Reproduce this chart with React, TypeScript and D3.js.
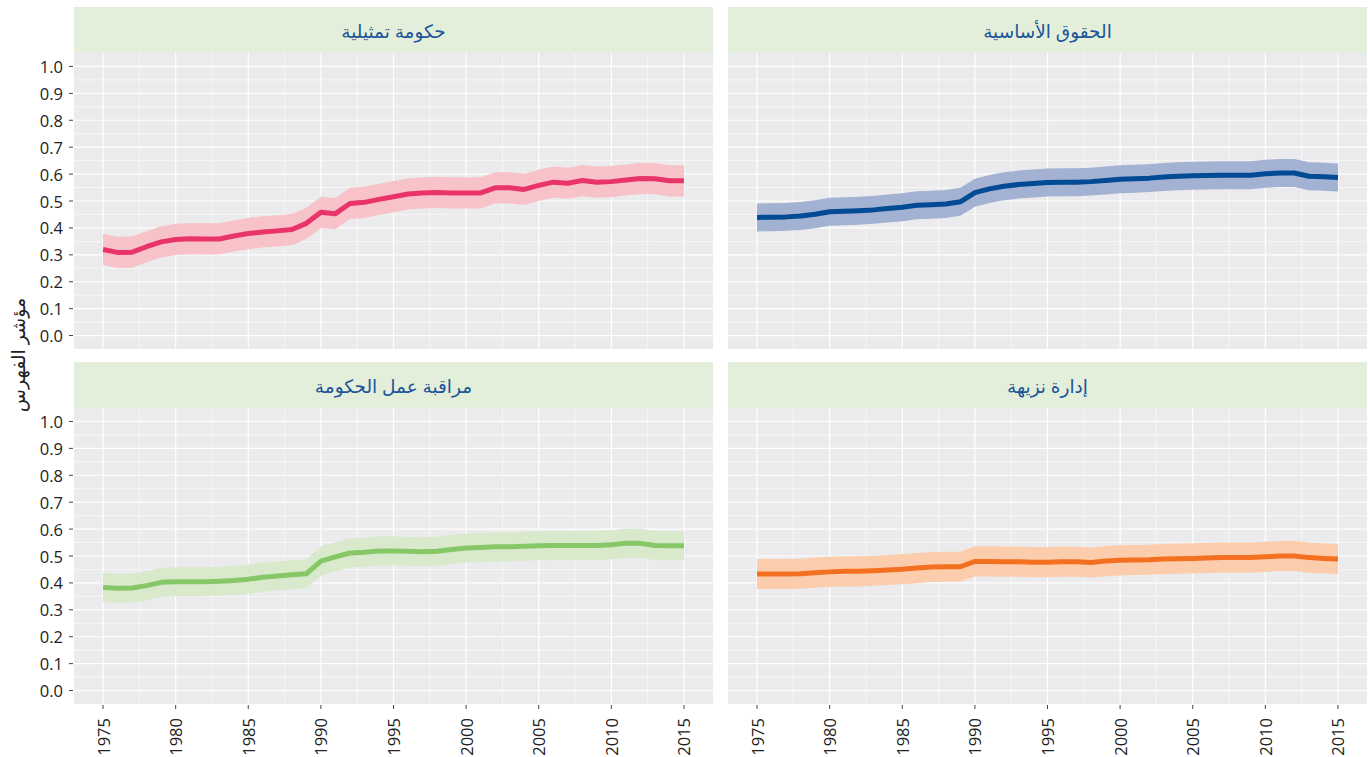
import React from "react";
import * as d3 from "d3";

const years: number[] = d3.range(1975, 2016);

const representative: number[] = [
  0.32, 0.309, 0.31, 0.33, 0.348, 0.357, 0.36, 0.359, 0.359, 0.37,
  0.379, 0.385, 0.389, 0.394, 0.417, 0.458, 0.453, 0.491, 0.495, 0.506,
  0.516, 0.526, 0.53, 0.532, 0.53, 0.53, 0.53, 0.549, 0.549, 0.543,
  0.558, 0.57, 0.566, 0.576, 0.57, 0.572, 0.578, 0.584, 0.583, 0.575, 0.575,
];
const rights: number[] = [
  0.439, 0.44, 0.441, 0.444, 0.451, 0.46, 0.462, 0.464, 0.467, 0.472,
  0.477, 0.484, 0.486, 0.489, 0.497, 0.531, 0.545, 0.555, 0.561, 0.565,
  0.569, 0.57, 0.57, 0.572, 0.576, 0.581, 0.583, 0.585, 0.589, 0.592,
  0.594, 0.595, 0.596, 0.596, 0.596, 0.601, 0.604, 0.604, 0.592, 0.59, 0.587,
];
const checks: number[] = [
  0.383, 0.38, 0.381, 0.39, 0.402, 0.404, 0.404, 0.404, 0.406, 0.409,
  0.414, 0.421, 0.426, 0.43, 0.434, 0.481, 0.497, 0.511, 0.514, 0.519,
  0.519, 0.518, 0.516, 0.518, 0.524, 0.53, 0.532, 0.534, 0.534, 0.536,
  0.538, 0.539, 0.539, 0.539, 0.539, 0.542, 0.547, 0.547, 0.539, 0.538, 0.538,
];
const impartial: number[] = [
  0.433, 0.433, 0.433, 0.434, 0.438, 0.441, 0.443, 0.443, 0.445, 0.448,
  0.451, 0.455, 0.459, 0.46, 0.46, 0.48, 0.48, 0.479, 0.479, 0.477,
  0.477, 0.479, 0.479, 0.476, 0.481, 0.484, 0.485, 0.486, 0.489, 0.49,
  0.491, 0.493, 0.494, 0.494, 0.494, 0.497, 0.5, 0.5, 0.494, 0.491, 0.489,
];

const panelTitles: string[] = ["حكومة تمثيلية", "الحقوق الأساسية", "مراقبة عمل الحكومة", "إدارة نزيهة"];
const halfWidths: number[] = [0.058, 0.052, 0.054, 0.056];
const lineColors: string[] = ["#e9346a", "#004b93", "#86c868", "#f37021"];
const ribbonColors: string[] = ["#f7c3c8", "#a3b1d3", "#d9eacc", "#fccdac"];
const yTicks: number[] = [0, 0.1, 0.2, 0.3, 0.4, 0.5, 0.6, 0.7, 0.8, 0.9, 1.0];
const xTicks: number[] = [1975, 1980, 1985, 1990, 1995, 2000, 2005, 2010, 2015];
const yTitle = "مؤشر الفهرس";

const seriesList = [representative, rights, checks, impartial];

const W = 1368;
const H = 757;
const colX = [74, 728];
const panelW = 639;
const rowStripTop = [7, 362];
const stripH = 46;
const plotH = 296;
const font = "'Open Sans', 'DejaVu Sans', sans-serif";
const arFont = "'Noto Sans', 'DejaVu Sans', sans-serif";

function Panel({ idx }: { idx: number }) {
  const col = idx % 2;
  const row = Math.floor(idx / 2);
  const x0 = colX[col];
  const stripTop = rowStripTop[row];
  const plotTop = stripTop + stripH;
  const x = d3.scaleLinear().domain([1973, 2017]).range([x0, x0 + panelW]);
  const y = d3.scaleLinear().domain([-0.05, 1.05]).range([plotTop + plotH, plotTop]);
  const vals = seriesList[idx];
  const hw = halfWidths[idx];
  const data = years.map((yr, i) => ({ yr, v: vals[i] }));
  const area = d3
    .area<{ yr: number; v: number }>()
    .x((d) => x(d.yr))
    .y0((d) => y(d.v - hw))
    .y1((d) => y(d.v + hw));
  const line = d3
    .line<{ yr: number; v: number }>()
    .x((d) => x(d.yr))
    .y((d) => y(d.v));
  const minorY = d3.range(0.05, 1.0, 0.1);
  const minorX = d3.range(1977.5, 2015, 5);
  return (
    <g>
      <rect x={x0} y={stripTop} width={panelW} height={stripH} fill="#e3efdb" />
      <text
        x={x0 + panelW / 2}
        y={stripTop + stripH / 2 + 3}
        textAnchor="middle"
        dominantBaseline="middle"
        fontSize={18.5}
        fill="#1c5598"
        fontFamily={arFont}
        direction="rtl"
      >
        {panelTitles[idx]}
      </text>
      <rect x={x0} y={plotTop} width={panelW} height={plotH} fill="#ebebed" />
      {minorY.map((v) => (
        <line key={"my" + v} x1={x0} x2={x0 + panelW} y1={y(v)} y2={y(v)} stroke="#fff" strokeWidth={0.6} />
      ))}
      {minorX.map((v) => (
        <line key={"mx" + v} x1={x(v)} x2={x(v)} y1={plotTop} y2={plotTop + plotH} stroke="#fff" strokeWidth={0.6} />
      ))}
      {yTicks.map((v) => (
        <line key={"gy" + v} x1={x0} x2={x0 + panelW} y1={y(v)} y2={y(v)} stroke="#fff" strokeWidth={1.2} />
      ))}
      {xTicks.map((v) => (
        <line key={"gx" + v} x1={x(v)} x2={x(v)} y1={plotTop} y2={plotTop + plotH} stroke="#fff" strokeWidth={1.2} />
      ))}
      <path d={area(data) || ""} fill={ribbonColors[idx]} />
      <path d={line(data) || ""} fill="none" stroke={lineColors[idx]} strokeWidth={5} strokeLinejoin="round" />
      {col === 0 &&
        yTicks.map((v) => (
          <g key={"ty" + v}>
            <line x1={x0 - 5} x2={x0 - 1} y1={y(v)} y2={y(v)} stroke="#444" strokeWidth={1} />
            <text
              x={x0 - 11}
              y={y(v)}
              textAnchor="end"
              dominantBaseline="central"
              fontSize={16.5}
              fill="#222"
              fontFamily={font}
            >
              {v.toFixed(1)}
            </text>
          </g>
        ))}
      {row === 1 &&
        xTicks.map((v) => (
          <g key={"tx" + v}>
            <line x1={x(v)} x2={x(v)} y1={plotTop + plotH + 1} y2={plotTop + plotH + 5} stroke="#444" strokeWidth={1} />
            <text
              transform={`translate(${x(v)},${plotTop + plotH + 14}) rotate(-90)`}
              textAnchor="end"
              dominantBaseline="central"
              fontSize={16.5}
              fill="#222"
              fontFamily={font}
            >
              {v}
            </text>
          </g>
        ))}
    </g>
  );
}

export default function App() {
  return (
    <svg
      width={W}
      height={H}
      style={{ position: "absolute", left: 0, top: 0, background: "#fff" }}
    >
      <rect x={0} y={0} width={W} height={H} fill="#fff" />
      {[0, 1, 2, 3].map((i) => (
        <Panel key={i} idx={i} />
      ))}
      <text
        transform={`translate(18,355) rotate(-90)`}
        textAnchor="middle"
        dominantBaseline="central"
        fontSize={19}
        fill="#222"
        fontFamily={arFont}
        direction="rtl"
      >
        {yTitle}
      </text>
    </svg>
  );
}
